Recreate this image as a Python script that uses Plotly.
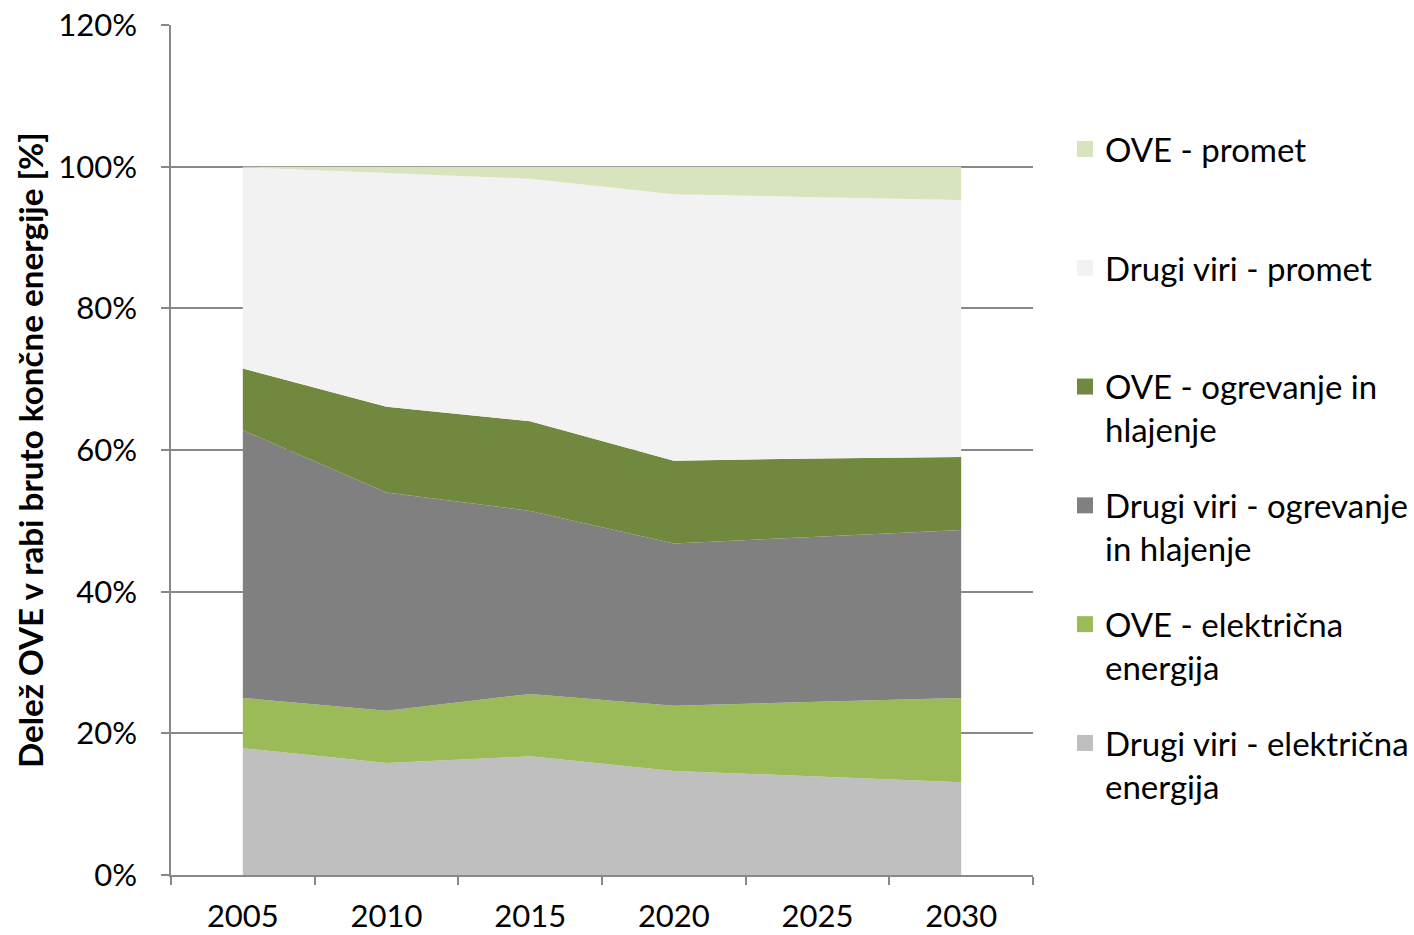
import plotly.graph_objects as go

years = ["2005", "2010", "2015", "2020", "2025", "2030"]

drugi_elektr = [17.9, 15.8, 16.75, 14.7, 13.9, 13.1]
ove_elektr = [7.1, 7.4, 8.8, 9.2, 10.55, 11.9]
drugi_ogr = [37.8, 30.8, 25.85, 22.9, 23.3, 23.7]
ove_ogr = [8.7, 12.1, 12.65, 11.7, 11.05, 10.3]
drugi_promet = [28.4, 33.0, 34.25, 37.6, 36.9, 36.3]
ove_promet = [0.1, 0.9, 1.7, 3.9, 4.3, 4.7]

series_names = [
    "Drugi viri - električna<br>energija",
    "OVE - električna<br>energija",
    "Drugi viri - ogrevanje<br>in hlajenje",
    "OVE - ogrevanje in<br>hlajenje",
    "Drugi viri - promet<br>\u00a0",
    "OVE - promet<br>\u00a0",
]
series_values = [drugi_elektr, ove_elektr, drugi_ogr, ove_ogr, drugi_promet, ove_promet]
series_colors = ["#BFBFBF", "#9BBB59", "#808080", "#71893F", "#F2F2F2", "#D7E4BD"]

y_title = "Delež OVE v rabi bruto končne energije [%]"

FONT = "Lato"
fig = go.Figure()

n = len(series_names)
for i, (name, vals, col) in enumerate(zip(series_names, series_values, series_colors)):
    fig.add_trace(go.Scatter(
        x=years, y=vals, name=name, stackgroup="one", mode="none",
        fillcolor=col, line=dict(width=0), showlegend=False,
        legendgroup=f"g{i}", legendrank=n - i, hoverinfo="x+y",
    ))
for i, (name, vals, col) in enumerate(zip(series_names, series_values, series_colors)):
    fig.add_trace(go.Scatter(
        x=[None], y=[None], name=name, mode="markers",
        marker=dict(symbol="square", size=20, color=col, line=dict(width=0)),
        legendgroup=f"g{i}", legendrank=n - i, showlegend=True,
    ))

fig.update_layout(
    width=1414, height=935,
    margin=dict(l=171, r=381, t=25, b=60, autoexpand=False),
    paper_bgcolor="white", plot_bgcolor="white",
    font=dict(family=FONT, size=31, color="black"),
    showlegend=True,
    legend=dict(
        x=(1065 - 171) / 862, xanchor="left", y=(875 - 121) / 850, yanchor="top",
        traceorder="grouped", valign="top",
        font=dict(family=FONT, size=33, color="black"),
        tracegroupgap=30, itemclick=False,
        bgcolor="rgba(0,0,0,0)",
    ),
    xaxis=dict(
        type="category", range=[-0.5, 5.5], automargin=False,
        showgrid=False, showline=True, linecolor="#888888", linewidth=1.5,
        ticks="outside", tickson="boundaries", ticklen=8, tickcolor="#888888", tickwidth=1.5,
        tickfont=dict(family=FONT, size=31, color="black"),
        ticklabelstandoff=13,
    ),
    yaxis=dict(
        range=[0, 120], dtick=20, ticksuffix="%", automargin=False,
        showgrid=True, gridcolor="#888888", gridwidth=1.5,
        showline=True, linecolor="#888888", linewidth=1.5,
        ticks="outside", ticklen=8, tickcolor="#888888", tickwidth=1.5,
        tickfont=dict(family=FONT, size=31, color="black"),
        ticklabelstandoff=18, zeroline=False,
    ),
    annotations=[dict(
        text="<b>" + y_title + "</b>", textangle=-90,
        xref="paper", yref="paper", x=(30 - 171) / 862, y=0.5,
        xanchor="center", yanchor="middle", showarrow=False,
        font=dict(family=FONT, size=33.2, color="black"),
    )],
)

fig.write_html(
    "out.html",
    config={"displayModeBar": False},
    post_script="document.body.style.margin='0';document.body.style.overflow='hidden';",
)
